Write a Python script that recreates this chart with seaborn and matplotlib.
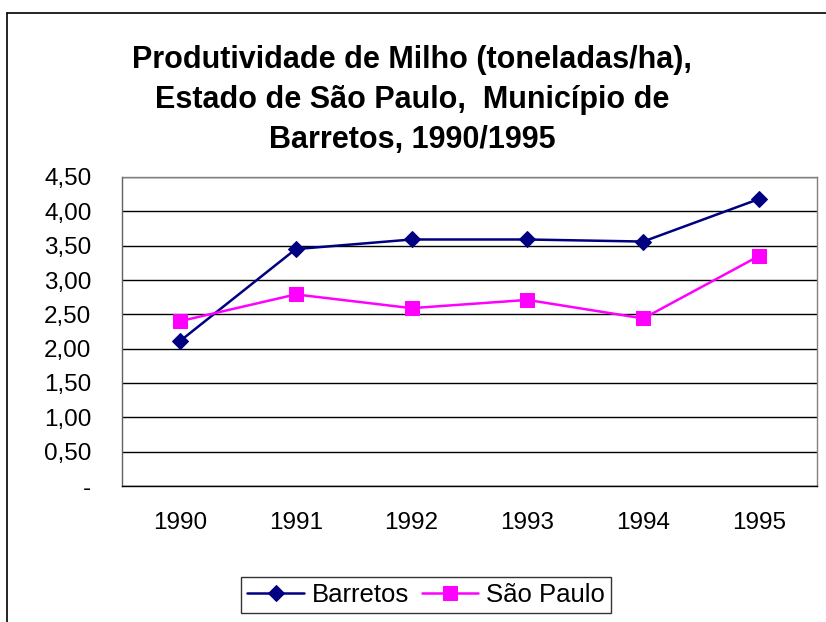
import matplotlib
matplotlib.use("Agg")
import matplotlib.pyplot as plt
from matplotlib.lines import Line2D
from matplotlib.ticker import FixedLocator, NullFormatter
import numpy as np
import pandas as pd
import seaborn as sns

# data
years = ["1990", "1991", "1992", "1993", "1994", "1995"]
barretos = [2.11, 3.45, 3.59, 3.59, 3.56, 4.18]
sao_paulo = [2.40, 2.79, 2.59, 2.71, 2.44, 3.35]
y_ticks = [0, 0.5, 1.0, 1.5, 2.0, 2.5, 3.0, 3.5, 4.0, 4.5]
y_labels = ["-", "0,50", "1,00", "1,50", "2,00", "2,50", "3,00", "3,50", "4,00", "4,50"]
title = "Produtividade de Milho (toneladas/ha),\nEstado de São Paulo,  Município de\nBarretos, 1990/1995"

sns.set_style("white")
plt.rcParams["font.family"] = ["Liberation Sans", "DejaVu Sans"]
plt.rcParams["text.color"] = "black"
plt.rcParams["xtick.color"] = "black"
plt.rcParams["ytick.color"] = "black"

df = pd.DataFrame({"pos": np.arange(len(years)), "Barretos": barretos, "São Paulo": sao_paulo})

fig = plt.figure(figsize=(8.26, 6.22), dpi=100)
ax = fig.add_axes([122 / 826, 1 - 486 / 622, (817 - 122) / 826, (486 - 177) / 622])

sns.lineplot(data=df, x="pos", y="Barretos", ax=ax, color="#000080", marker="D",
             markersize=8, markeredgecolor="#000080", linewidth=1.8, label="Barretos")
sns.lineplot(data=df, x="pos", y="São Paulo", ax=ax, color="#FF00FF", marker="s",
             markersize=10, markeredgecolor="#FF00FF", linewidth=1.8, label="São Paulo")

ax.set_xlim(-0.5, len(years) - 0.5)
ax.set_ylim(0, 4.5)
ax.set_xlabel(""); ax.set_ylabel("")

# y axis, Excel style
ax.set_yticks(y_ticks)
ax.set_yticklabels(y_labels)
ax.tick_params(axis="y", direction="out", length=5, width=1, color="black", pad=17, labelsize=17.5)
ax.yaxis.grid(True, color="black", linewidth=1)

# x axis: ticks at category boundaries, labels in the middle
ax.xaxis.set_major_locator(FixedLocator(np.arange(-0.5, len(years), 1.0)))
ax.xaxis.set_major_formatter(NullFormatter())
ax.set_xticks(np.arange(len(years)), labels=years, minor=True)
ax.tick_params(axis="x", which="major", direction="out", length=5, width=1, color="black")
ax.tick_params(axis="x", which="minor", length=0, pad=19, labelsize=17.5)

for side in ["top", "right"]:
    ax.spines[side].set_color("#808080")
ax.spines["left"].set_color("#606060")
ax.spines["bottom"].set_color("black")
for s in ax.spines.values():
    s.set_linewidth(1)

fig.text(0.499, 1 - 100 / 622, title, ha="center", va="center", fontsize=22,
         fontweight="bold", linespacing=1.45)

ax.legend(loc="center", bbox_to_anchor=(426 / 826, 1 - 595 / 622), bbox_transform=fig.transFigure,
          ncol=2, frameon=True, fancybox=False, edgecolor="black", fontsize=18.5,
          handlelength=2.2, columnspacing=0.5, handletextpad=0.3, borderpad=0.25)
ax.get_legend().get_frame().set_linewidth(1)

# outer chart frame (left and top edges visible)
fig.add_artist(Line2D([7 / 826, 7 / 826], [0, 1 - 13 / 622], color="black", linewidth=1.2))
fig.add_artist(Line2D([7 / 826, 1], [1 - 13 / 622, 1 - 13 / 622], color="black", linewidth=1.2))

fig.savefig("out.png", dpi=100)
